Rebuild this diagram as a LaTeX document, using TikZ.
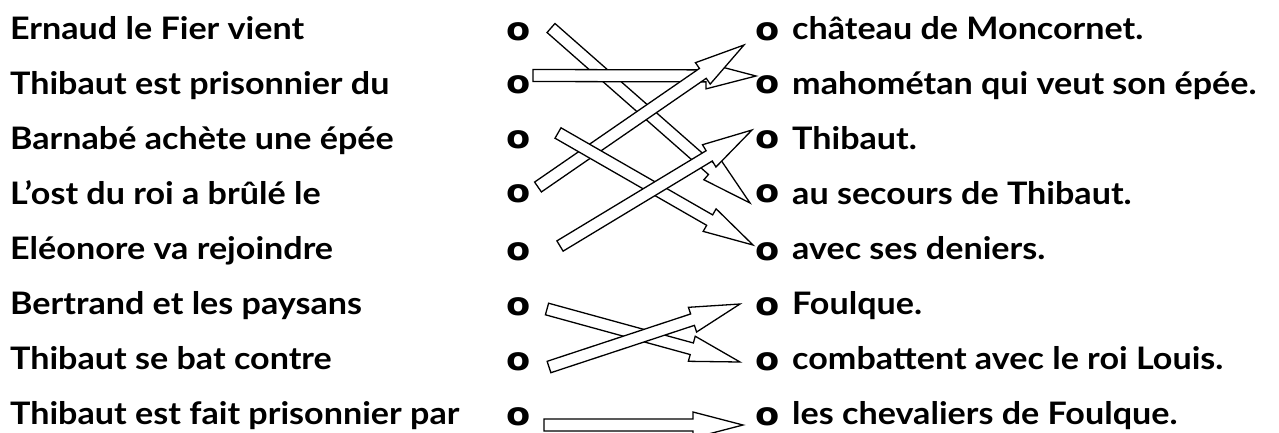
\documentclass[tikz,border=0pt]{standalone}
\usepackage{fontspec}
\setmainfont{Lato}[FakeStretch=1.1]
\newfontfamily\ofont{DejaVu Sans}[FakeStretch=1.1]
\usetikzlibrary{calc}
\newcommand\blockarr[2]{%
  \coordinate (hb) at ($(#2)!50pt!(#1)$);
  \draw[barr] ($(#1)!6pt!90:(#2)$) -- ($(hb)!6pt!90:(#2)$) -- ($(hb)!13pt!90:(#2)$) -- (#2)
    -- ($(hb)!13pt!-90:(#2)$) -- ($(hb)!6pt!-90:(#2)$) -- ($(#1)!6pt!-90:(#2)$) -- cycle;}
\begin{document}
\begin{tikzpicture}[x=1pt,y=-1pt,
  lbl/.style={anchor=base west, inner sep=0pt, font=\fontsize{31}{31}\selectfont\bfseries},
  dot/.style={anchor=center, inner sep=0pt, font=\ofont\bfseries\fontsize{32}{32}\selectfont},
  barr/.style={draw, fill=white, line width=1.3pt, line join=miter}]
\useasboundingbox (0,0) rectangle (1279,432);
% left texts
\node[lbl] (l1) at (10,39) {Ernaud le Fier vient};
\node[lbl] (l2) at (10,94) {Thibaut est prisonnier du};
\node[lbl] (l3) at (10,149) {Barnabé achète une épée};
\node[lbl] (l4) at (10,204) {L’ost du roi a brûlé le};
\node[lbl] (l5) at (10,259) {Eléonore va rejoindre};
\node[lbl] (l6) at (10,314) {Bertrand et les paysans};
\node[lbl] (l7) at (10,369) {Thibaut se bat contre};
\node[lbl] (l8) at (10,424) {Thibaut est fait prisonnier par};
% dots
\foreach \i/\y in {1/32,2/85,3/140,4/194,5/252,6/307,7/362,8/417}{
  \node[dot] (L\i) at (518.5,\y) {o};
  \node[dot] (R\i) at (768,\y) {o};
}
% right texts
\node[lbl] (r1) at (792,39) {château de Moncornet.};
\node[lbl] (r2) at (792,94) {mahométan qui veut son épée.};
\node[lbl] (r3) at (792,149) {Thibaut.};
\node[lbl] (r4) at (792,204) {au secours de Thibaut.};
\node[lbl] (r5) at (792,259) {avec ses deniers.};
\node[lbl] (r6) at (792,314) {Foulque.};
\node[lbl] (r7) at (792,369) {combattent avec le roi Louis.};
\node[lbl] (r8) at (792,424) {les chevaliers de Foulque.};
% arrow ends
\coordinate (t1) at (551,28);   \coordinate (h1) at (750,203);
\coordinate (t2) at (533,75.5); \coordinate (h2) at (756,76);
\coordinate (t3) at (538,187);  \coordinate (h3) at (744,45);
\coordinate (t4) at (558,133);  \coordinate (h4) at (753,245);
\coordinate (t5) at (560,246);  \coordinate (h5) at (752,130);
\coordinate (t6) at (547,309);  \coordinate (h6) at (740,362);
\coordinate (t7) at (549,367);  \coordinate (h7) at (740,304);
\coordinate (t8) at (544,425);  \coordinate (h8) at (743,425);
\blockarr{t1}{h1}
\blockarr{t2}{h2}
\blockarr{t3}{h3}
\blockarr{t4}{h4}
\blockarr{t5}{h5}
\blockarr{t6}{h6}
\blockarr{t7}{h7}
\blockarr{t8}{h8}
\end{tikzpicture}
\end{document}
